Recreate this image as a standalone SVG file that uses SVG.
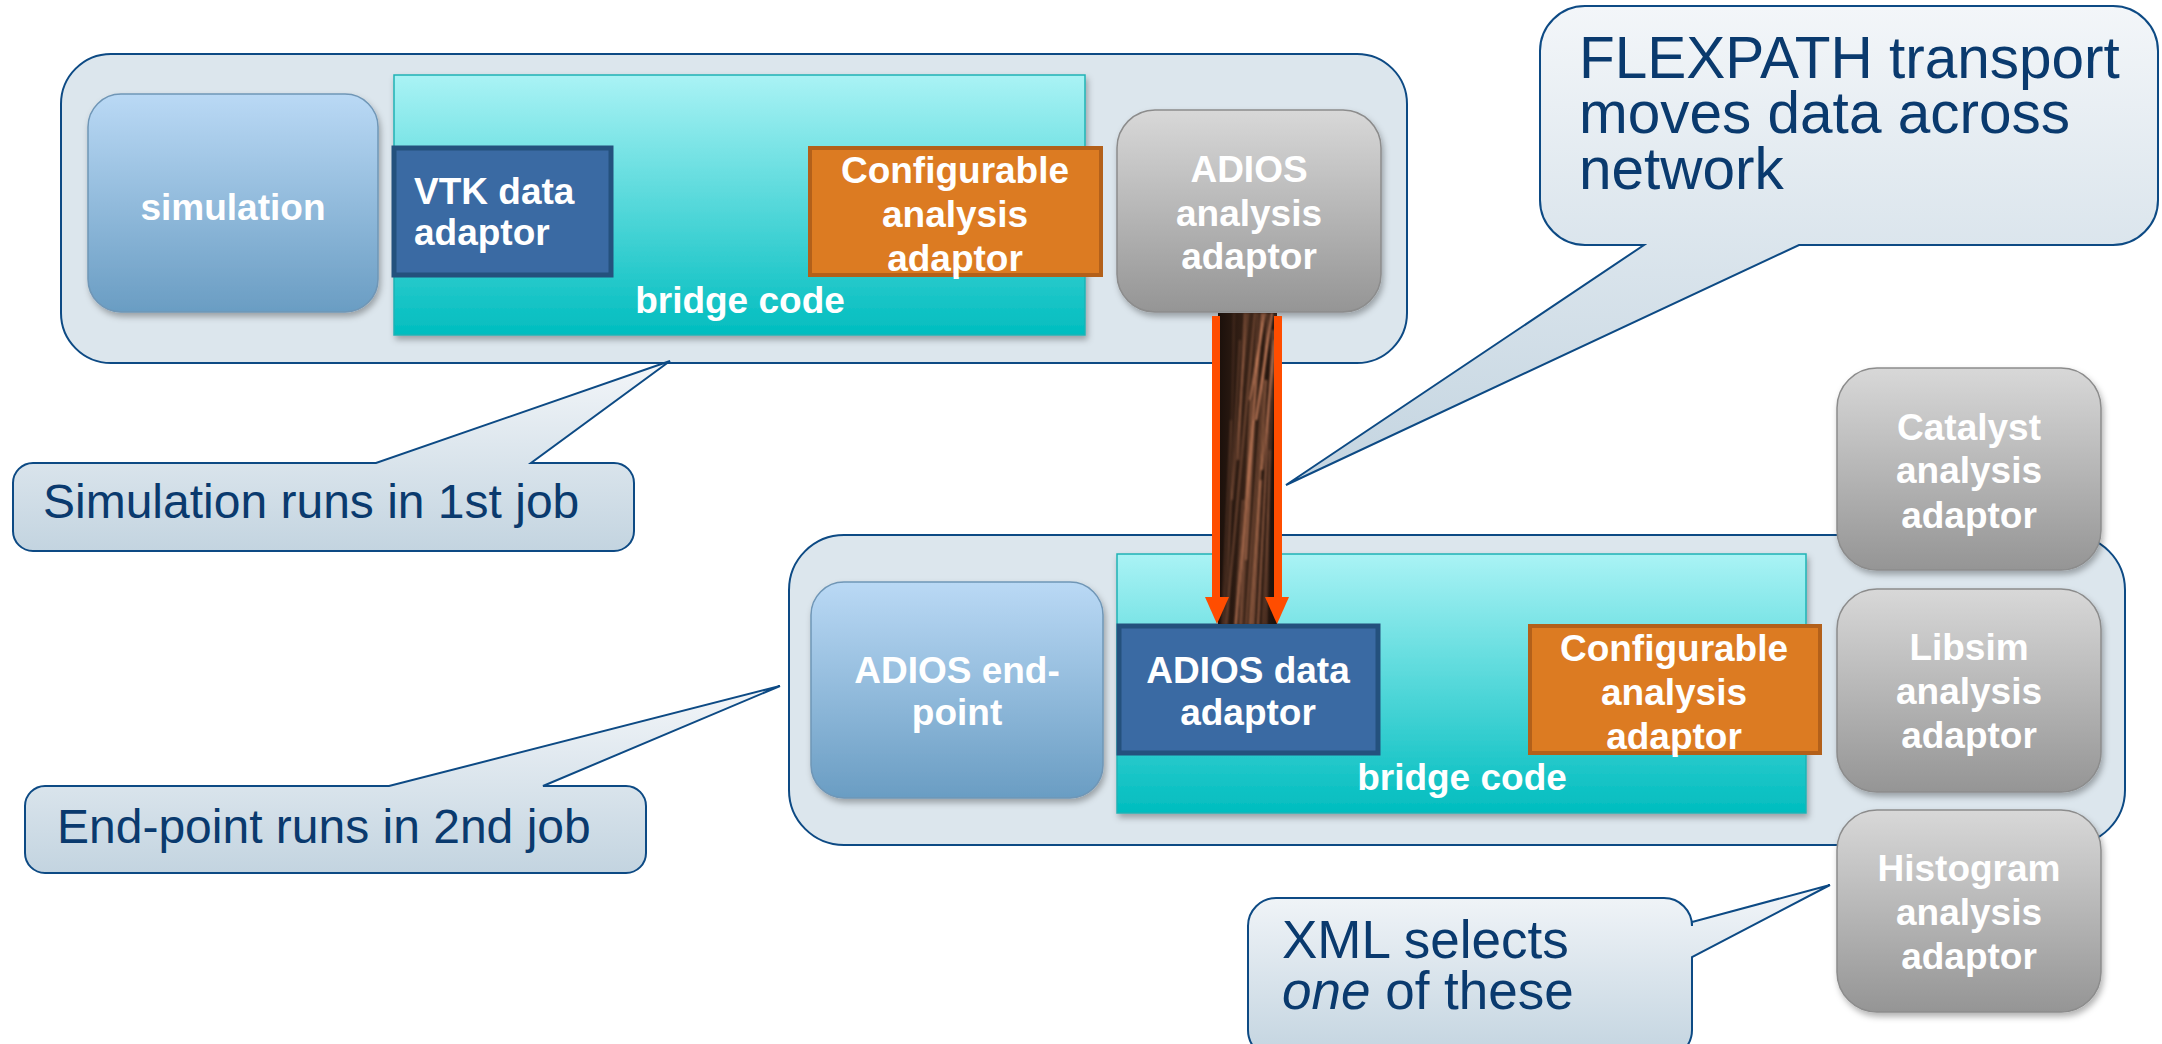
<svg xmlns="http://www.w3.org/2000/svg" width="2162" height="1044" viewBox="0 0 2162 1044">
  <defs>
    <linearGradient id="gCallout" x1="0" y1="0" x2="0" y2="1">
      <stop offset="0" stop-color="#f3f6f9"/>
      <stop offset="1" stop-color="#c3d4e0"/>
    </linearGradient>
    <linearGradient id="gBlue" x1="0" y1="0" x2="0" y2="1">
      <stop offset="0" stop-color="#bad9f5"/>
      <stop offset="1" stop-color="#6a9dc3"/>
    </linearGradient>
    <linearGradient id="gGray" x1="0" y1="0" x2="0" y2="1">
      <stop offset="0" stop-color="#d8d8d8"/>
      <stop offset="1" stop-color="#959595"/>
    </linearGradient>
    <linearGradient id="gBridge" x1="0" y1="0" x2="0" y2="1">
      <stop offset="0" stop-color="#aaf3f5"/>
      <stop offset="1" stop-color="#00bdbf"/>
    </linearGradient>
    <linearGradient id="gFiber" x1="0" y1="0" x2="1" y2="0">
      <stop offset="0" stop-color="#1a0f0a"/>
      <stop offset="0.55" stop-color="#3c2519"/>
      <stop offset="1" stop-color="#1a0f0a"/>
    </linearGradient>
    <filter id="shadow" x="-10%" y="-10%" width="130%" height="130%">
      <feDropShadow dx="2" dy="4" stdDeviation="3" flood-color="#000" flood-opacity="0.3"/>
    </filter>
    <filter id="soft" x="-5%" y="-5%" width="110%" height="110%">
      <feGaussianBlur stdDeviation="0.9"/>
    </filter>
    <clipPath id="fiberClip">
      <rect x="1218" y="313" width="59" height="311"/>
    </clipPath>
  </defs>
  <style>
    .container { fill: #dce6ed; stroke: #0d4a84; stroke-width: 2; }
    .callout { fill: url(#gCallout); stroke: #0d4a84; stroke-width: 2; stroke-linejoin: miter; }
    .blue { fill: url(#gBlue); stroke: #6f96b6; stroke-width: 1.5; filter: url(#shadow); }
    .gray { fill: url(#gGray); stroke: #8c8c8c; stroke-width: 1.5; filter: url(#shadow); }
    .bridge { fill: url(#gBridge); stroke: #1fb3b5; stroke-width: 1.5; filter: url(#shadow); }
    .data { fill: #3a6aa3; stroke: #24517d; stroke-width: 5; }
    .orange { fill: #dc7b22; stroke: #b3601a; stroke-width: 4; }
    .label { font-family: "Liberation Sans", Arial, sans-serif; font-weight: bold; font-size: 37px; fill: #ffffff; text-anchor: middle; }
    .left { text-anchor: start; }
    .note { font-family: "Liberation Sans", Arial, sans-serif; fill: #0a3a6e; }
    .arrow { fill: #ff4d00; }
    .streak { stroke: #f09a70; fill: none; }
  </style>

  <!-- first job -->
  <g id="job1">
    <rect class="container" x="61" y="54" width="1346" height="309" rx="50"/>
  </g>

  <!-- second job -->
  <g id="job2">
    <rect class="container" x="789" y="535" width="1336" height="310" rx="55"/>
  </g>

  <g id="simulation">
    <rect class="blue" x="88" y="94" width="290" height="218" rx="33"/>
    <text class="label" x="233" y="220">simulation</text>
  </g>

  <g id="bridge-code-1">
    <rect class="bridge" x="394" y="75" width="691" height="260"/>
    <text class="label" x="740" y="313">bridge code</text>
  </g>

  <g id="vtk-data-adaptor">
    <rect class="data" x="394" y="148" width="217" height="127"/>
    <text class="label left" x="414" y="204">VTK data</text>
    <text class="label left" x="414" y="245">adaptor</text>
  </g>

  <g id="configurable-analysis-1">
    <rect class="orange" x="810" y="148" width="291" height="127"/>
    <text class="label" x="955" y="182.5">Configurable</text>
    <text class="label" x="955" y="226.5">analysis</text>
    <text class="label" x="955" y="270.5">adaptor</text>
  </g>

  <g id="adios-analysis-adaptor">
    <rect class="gray" x="1117" y="110" width="264" height="202" rx="38"/>
    <text class="label" x="1249" y="182">ADIOS</text>
    <text class="label" x="1249" y="226">analysis</text>
    <text class="label" x="1249" y="269">adaptor</text>
  </g>

  <g id="adios-end-point">
    <rect class="blue" x="811" y="582" width="292" height="216" rx="33"/>
    <text class="label" x="957" y="683">ADIOS end-</text>
    <text class="label" x="957" y="725">point</text>
  </g>

  <g id="bridge-code-2">
    <rect class="bridge" x="1117" y="554" width="689" height="259"/>
    <text class="label" x="1462" y="790">bridge code</text>
  </g>

  <g id="adios-data-adaptor">
    <rect class="data" x="1119" y="626" width="259" height="127"/>
    <text class="label" x="1248" y="683">ADIOS data</text>
    <text class="label" x="1248" y="725">adaptor</text>
  </g>

  <g id="configurable-analysis-2">
    <rect class="orange" x="1530" y="626" width="290" height="127"/>
    <text class="label" x="1674" y="660.5">Configurable</text>
    <text class="label" x="1674" y="704.5">analysis</text>
    <text class="label" x="1674" y="748.5">adaptor</text>
  </g>

  <g id="catalyst-analysis-adaptor">
    <rect class="gray" x="1837" y="368" width="264" height="202" rx="40"/>
    <text class="label" x="1969" y="440">Catalyst</text>
    <text class="label" x="1969" y="483">analysis</text>
    <text class="label" x="1969" y="528">adaptor</text>
  </g>

  <g id="libsim-analysis-adaptor">
    <rect class="gray" x="1837" y="589" width="264" height="203" rx="40"/>
    <text class="label" x="1969" y="660">Libsim</text>
    <text class="label" x="1969" y="704">analysis</text>
    <text class="label" x="1969" y="748">adaptor</text>
  </g>

  <g id="histogram-analysis-adaptor">
    <rect class="gray" x="1837" y="810" width="264" height="202" rx="40"/>
    <text class="label" x="1969" y="881">Histogram</text>
    <text class="label" x="1969" y="925">analysis</text>
    <text class="label" x="1969" y="969">adaptor</text>
  </g>

  <!-- data stream between the two jobs -->
  <g id="connectors">
    <g id="flexpath-stream">
      <rect x="1218" y="313" width="59" height="311" fill="url(#gFiber)"/>
      <g clip-path="url(#fiberClip)" filter="url(#soft)">
        <line class="streak" x1="1262" y1="313" x2="1236" y2="625" stroke-width="1.5" opacity="0.75"/>
        <line class="streak" x1="1268" y1="313" x2="1246" y2="625" stroke-width="1" opacity="0.6"/>
        <line class="streak" x1="1255" y1="313" x2="1226" y2="625" stroke-width="1.2" opacity="0.5"/>
        <line class="streak" x1="1273" y1="330" x2="1258" y2="625" stroke-width="1.6" opacity="0.6"/>
        <line class="streak" x1="1248" y1="313" x2="1232" y2="500" stroke-width="1" opacity="0.5"/>
        <line class="streak" x1="1240" y1="340" x2="1224" y2="625" stroke-width="1" opacity="0.4"/>
        <line class="streak" x1="1266" y1="380" x2="1250" y2="625" stroke-width="2" opacity="0.55"/>
        <line class="streak" x1="1258" y1="313" x2="1242" y2="625" stroke-width="0.8" opacity="0.6"/>
        <line class="streak" x1="1276" y1="313" x2="1263" y2="625" stroke-width="1" opacity="0.5"/>
        <line class="streak" x1="1234" y1="313" x2="1228" y2="625" stroke-width="0.8" opacity="0.3"/>
        <line class="streak" x1="1251" y1="400" x2="1240" y2="625" stroke-width="1.5" opacity="0.5"/>
        <line class="streak" x1="1270" y1="450" x2="1266" y2="625" stroke-width="1" opacity="0.5"/>
        <line class="streak" x1="1231" y1="420" x2="1222" y2="625" stroke-width="1" opacity="0.35"/>
        <line class="streak" x1="1245" y1="313" x2="1238" y2="460" stroke-width="1.2" opacity="0.6"/>
        <line class="streak" x1="1261" y1="480" x2="1253" y2="625" stroke-width="1.5" opacity="0.6"/>
        <line class="streak" x1="1272" y1="313" x2="1256" y2="420" stroke-width="2.2" opacity="0.75"/>
        <line class="streak" x1="1265" y1="313" x2="1250" y2="400" stroke-width="1.8" opacity="0.7"/>
        <line class="streak" x1="1243" y1="500" x2="1235" y2="625" stroke-width="1.2" opacity="0.45"/>
        <line class="streak" x1="1275" y1="340" x2="1262" y2="470" stroke-width="2" opacity="0.6"/>
        <line class="streak" x1="1254" y1="420" x2="1246" y2="560" stroke-width="2" opacity="0.45"/>
      </g>
      <rect class="arrow" x="1212" y="316" width="8" height="282"/>
      <polygon class="arrow" points="1205,597 1229,597 1217,624"/>
      <rect class="arrow" x="1274" y="316" width="8" height="282"/>
      <polygon class="arrow" points="1265,597 1289,597 1277,624"/>
    </g>
  </g>

  <!-- call-outs -->
  <g id="note-flexpath">
    <path class="callout" d="M1585,6 H2113 A45,45 0 0 1 2158,51 V200 A45,45 0 0 1 2113,245 H1799 L1286,485 L1644,245 H1585 A45,45 0 0 1 1540,200 V51 A45,45 0 0 1 1585,6 Z"/>
    <text class="note" font-size="58.5" x="1579" y="78">FLEXPATH transport</text>
    <text class="note" font-size="58.5" x="1579" y="133">moves data across</text>
    <text class="note" font-size="58.5" x="1579" y="189">network</text>
  </g>

  <g id="note-job1">
    <path class="callout" d="M33,463 H376 L670,361 L531,463 H614 A20,20 0 0 1 634,483 V531 A20,20 0 0 1 614,551 H33 A20,20 0 0 1 13,531 V483 A20,20 0 0 1 33,463 Z"/>
    <text class="note" font-size="48" x="43" y="518">Simulation runs in 1st job</text>
  </g>

  <g id="note-job2">
    <path class="callout" d="M45,786 H389 L780,686 L543,786 H626 A20,20 0 0 1 646,806 V853 A20,20 0 0 1 626,873 H45 A20,20 0 0 1 25,853 V806 A20,20 0 0 1 45,786 Z"/>
    <text class="note" font-size="48" x="57" y="843">End-point runs in 2nd job</text>
  </g>

  <g id="note-xml">
    <path class="callout" d="M1276,898 H1664 A28,28 0 0 1 1692,926 V922 L1830,885 L1692,957 V1030 A28,28 0 0 1 1664,1058 H1276 A28,28 0 0 1 1248,1030 V926 A28,28 0 0 1 1276,898 Z"/>
    <text class="note" font-size="53" x="1282" y="958">XML selects</text>
    <text class="note" font-size="53" x="1282" y="1009"><tspan font-style="italic">one</tspan> of these</text>
  </g>
</svg>
